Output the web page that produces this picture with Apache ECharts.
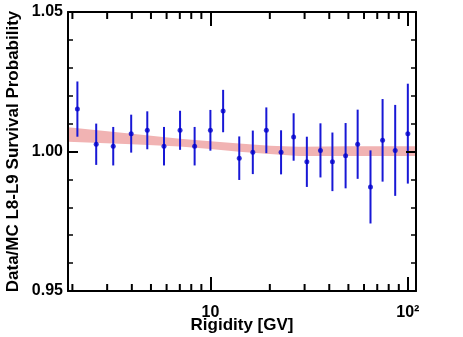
<!DOCTYPE html>
<html>
<head>
<meta charset="utf-8">
<script src="https://cdn.jsdelivr.net/npm/echarts@6/dist/echarts.min.js"></script>
<style>
html,body{margin:0;padding:0;background:#fff;}
#c{width:463px;height:337px;}
</style>
</head>
<body>
<div id="c"></div>
<script>
// ---- data ----
var rigidity = [2.12, 2.64, 3.22, 3.97, 4.79, 5.82, 7.02, 8.32, 10.0, 11.6, 14.0, 16.4, 19.2, 22.8, 26.4, 30.8, 36.1, 41.5, 48.4, 55.7, 64.7, 74.5, 86.3, 100];
var ratio = [1.0152, 1.0026, 1.0019, 1.0064, 1.0076, 1.0019, 1.0076, 1.0019, 1.0076, 1.0145, 0.9976, 0.9997, 1.0076, 0.9997, 1.0052, 0.9963, 1.0004, 0.9963, 0.9985, 1.0026, 0.9873, 1.0040, 1.0004, 1.0064];
var ratioErr = [0.0099, 0.0074, 0.0069, 0.0068, 0.0068, 0.0069, 0.0070, 0.0069, 0.0073, 0.0076, 0.0078, 0.0078, 0.0082, 0.0079, 0.0085, 0.0090, 0.0097, 0.0105, 0.0117, 0.0124, 0.0131, 0.0148, 0.0163, 0.0179];

var bandR = [1.9, 4, 7, 10, 14, 20, 28, 50, 110];
var bandLow = [1.0035, 1.0026, 1.0018, 1.0009, 0.9999, 0.9991, 0.9984, 0.9984, 0.9984];
var bandHigh = [1.0087, 1.0064, 1.0046, 1.0037, 1.0029, 1.0021, 1.0017, 1.0019, 1.0019];

var xMinorTicks = [2, 3, 4, 5, 6, 7, 8, 9, 20, 30, 40, 50, 60, 70, 80, 90];
var xMin = 1.9, xMax = 110;
var yMin = 0.95, yMax = 1.05, yStep = 0.05;

var FONT = '"Liberation Sans", Arial, Helvetica, sans-serif';

var chart = echarts.init(document.getElementById('c'), null, {renderer: 'canvas'});

var barData = rigidity.map(function (r, i) { return [r, ratio[i] - ratioErr[i], ratio[i] + ratioErr[i]]; });
var pointData = rigidity.map(function (r, i) { return [r, ratio[i]]; });
var bandData = bandR.map(function (r, i) { return [r, bandLow[i], bandHigh[i]]; });

function xAxisCfg(pos, showLabel) {
  return {
    type: 'log', logBase: 10, min: xMin, max: xMax, position: pos, z: 10,
    axisLine: {show: true, onZero: false, lineStyle: {color: '#000', width: 2}},
    axisTick: {show: true, inside: true, length: 14, lineStyle: {color: '#000', width: 2}},
    minorTick: {show: false},
    splitLine: {show: false},
    axisLabel: {
      show: showLabel, margin: 14, showMinLabel: false, showMaxLabel: false,
      color: '#000', fontFamily: FONT, fontWeight: 'bold', fontSize: 16,
      formatter: function (v) {
        if (Math.abs(v - 10) < 1e-6) return '10';
        if (Math.abs(v - 100) < 1e-6) return '10\u00B2';
        return '';
      }
    },
    name: showLabel ? 'Rigidity [GV]' : '',
    nameLocation: 'middle', nameGap: 26, nameMoveOverlap: false,
    nameTextStyle: {color: '#000', fontFamily: FONT, fontWeight: 'bold', fontSize: 17}
  };
}
function yAxisCfg(pos, showLabel) {
  return {
    type: 'value', min: yMin, max: yMax, interval: yStep, position: pos, z: 10,
    axisLine: {show: true, onZero: false, lineStyle: {color: '#000', width: 2}},
    axisTick: {show: true, inside: true, length: 10, lineStyle: {color: '#000', width: 2}},
    minorTick: {show: true, splitNumber: 5, length: 5, lineStyle: {color: '#000', width: 1.5}},
    splitLine: {show: false},
    axisLabel: {
      show: showLabel, margin: 5, color: '#000', fontFamily: FONT, fontWeight: 'bold', fontSize: 16,
      formatter: function (v) { return v.toFixed(2); }
    },
    name: showLabel ? 'Data/MC L8-L9 Survival Probability' : '',
    nameLocation: 'middle', nameGap: 46, nameMoveOverlap: false,
    nameTextStyle: {color: '#000', fontFamily: FONT, fontWeight: 'bold', fontSize: 17}
  };
}

var option = {
  animation: false,
  backgroundColor: '#fff',
  grid: {left: 68, right: 47, top: 12, bottom: 46, containLabel: false, outerBoundsMode: 'none'},
  xAxis: [xAxisCfg('bottom', true), xAxisCfg('top', false)],
  yAxis: [yAxisCfg('left', true), yAxisCfg('right', false)],
  series: [
    {
      type: 'custom', name: 'band', data: bandData, z: 1, silent: true, clip: true,
      renderItem: function (params, api) {
        if (params.dataIndex !== 0) return null;
        var up = [], lo = [];
        for (var i = 0; i < bandData.length; i++) {
          up.push(api.coord([bandData[i][0], bandData[i][2]]));
          lo.unshift(api.coord([bandData[i][0], bandData[i][1]]));
        }
        return {type: 'polygon', shape: {points: up.concat(lo)}, style: {fill: '#f1b3b3', stroke: null}};
      }
    },
    {
      type: 'custom', name: 'errors', data: barData, z: 3, silent: true,
      renderItem: function (params, api) {
        var p1 = api.coord([api.value(0), api.value(1)]);
        var p2 = api.coord([api.value(0), api.value(2)]);
        return {type: 'line', shape: {x1: p1[0], y1: p1[1], x2: p2[0], y2: p2[1]},
          style: {stroke: '#1818d6', lineWidth: 2}};
      }
    },
    {
      type: 'scatter', name: 'points', data: pointData, z: 4, symbol: 'circle', symbolSize: 5,
      itemStyle: {color: '#0000cc'}
    },
    {
      type: 'custom', name: 'xminor', data: xMinorTicks.map(function (v) { return [v]; }), z: 12, silent: true,
      encode: {x: 0},
      renderItem: function (params, api) {
        var cs = params.coordSys;
        var x = api.coord([api.value(0), yMin])[0];
        var top = cs.y, bot = cs.y + cs.height;
        return {type: 'group', children: [
          {type: 'line', shape: {x1: x, y1: bot, x2: x, y2: bot - 7}, style: {stroke: '#000', lineWidth: 2}},
          {type: 'line', shape: {x1: x, y1: top, x2: x, y2: top + 7}, style: {stroke: '#000', lineWidth: 2}}
        ]};
      }
    }
  ]
};
chart.setOption(option);
</script>
</body>
</html>
